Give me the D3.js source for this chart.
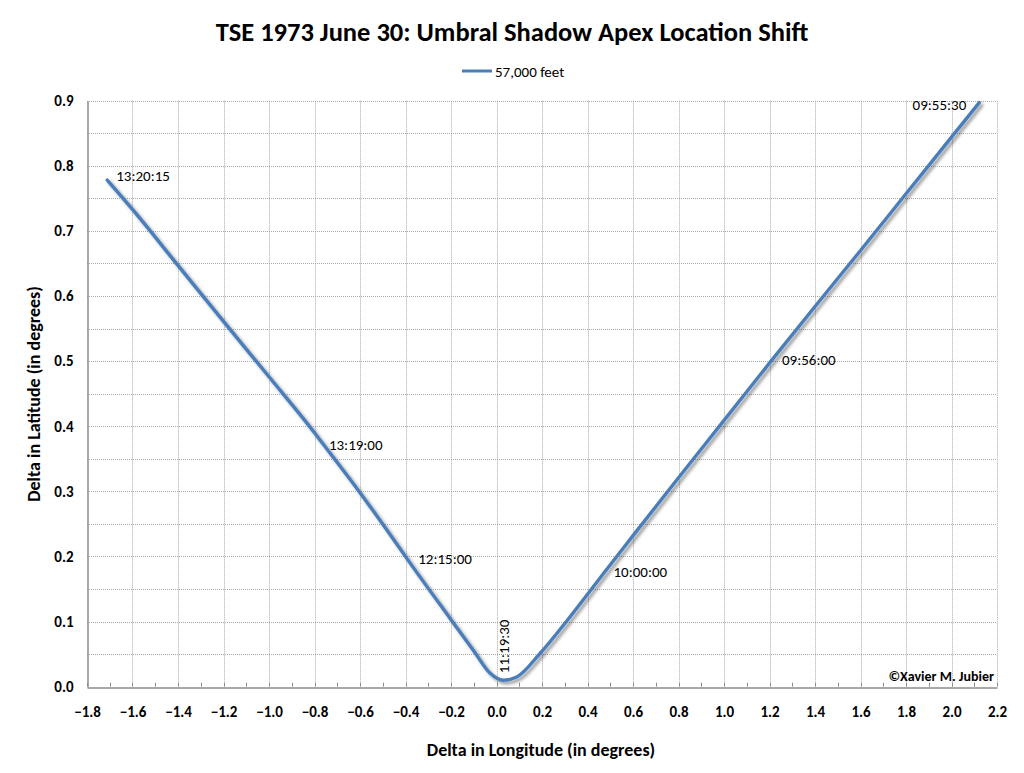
<!DOCTYPE html>
<html>
<head>
<meta charset="utf-8">
<script src="https://cdn.jsdelivr.net/npm/d3@7"></script>
<style>
  body { margin: 0; background: #fff; }
  svg { display: block; font-family: Carlito, Lato, "Open Sans", sans-serif; }
</style>
</head>
<body>
<svg id="chart" width="1024" height="773"></svg>
<script>
// ---- data ----
const title = "TSE 1973 June 30: Umbral Shadow Apex Location Shift";
const seriesName = "57,000 feet";
const lon = [-1.711, -1.6, -1.4, -1.2, -1.0, -0.8, -0.763, -0.6, -0.4, -0.388, -0.2, -0.102, -0.029, 0.030, 0.089, 0.191, 0.309, 0.4, 0.466, 0.6, 0.8, 1.0, 1.211, 1.4, 1.6, 1.8, 2.0, 2.122];
const lat = [0.778, 0.733, 0.647, 0.561, 0.476, 0.390, 0.373, 0.298, 0.200, 0.194, 0.103, 0.056, 0.021, 0.010, 0.015, 0.051, 0.101, 0.142, 0.172, 0.232, 0.321, 0.409, 0.502, 0.584, 0.670, 0.757, 0.844, 0.897];
const labelIndex = [0, 6, 9, 13, 18, 22, 27];
const labelText = ["13:20:15", "13:19:00", "12:15:00", "11:19:30", "10:00:00", "09:56:00", "09:55:30"];
const xTicks = [-1.8, -1.6, -1.4, -1.2, -1.0, -0.8, -0.6, -0.4, -0.2, 0.0, 0.2, 0.4, 0.6, 0.8, 1.0, 1.2, 1.4, 1.6, 1.8, 2.0, 2.2];
const yTicks = [0.0, 0.1, 0.2, 0.3, 0.4, 0.5, 0.6, 0.7, 0.8, 0.9];
const yGrid = [0.05, 0.1, 0.15, 0.2, 0.25, 0.3, 0.35, 0.4, 0.45, 0.5, 0.55, 0.6, 0.65, 0.7, 0.75, 0.8, 0.85, 0.9];
const xMinor = [-1.7, -1.5, -1.3, -1.1, -0.9, -0.7, -0.5, -0.3, -0.1, 0.1, 0.3, 0.5, 0.7, 0.9, 1.1, 1.3, 1.5, 1.7, 1.9, 2.1];
const xAxisTitle = "Delta in Longitude (in degrees)";
const yAxisTitle = "Delta in Latitude (in degrees)";
const credit = "©Xavier M. Jubier";

// ---- layout ----
const L = 87, R = 997, T = 100.7, B = 686.7;
const svg = d3.select("#chart");
const x = d3.scaleLinear().domain([-1.8, 2.2]).range([L, R]);
const y = d3.scaleLinear().domain([0, 0.9]).range([B, T]);
const blue = "#4a7ebb";
const FONT = "Carlito, Lato, sans-serif";

const defs = svg.append("defs");
const f = defs.append("filter").attr("id", "shadow").attr("x", "-10%").attr("y", "-10%").attr("width", "120%").attr("height", "120%");
f.append("feDropShadow").attr("dx", 2.5).attr("dy", 2.5).attr("stdDeviation", 1.4).attr("flood-color", "#000").attr("flood-opacity", 0.4);

// title
svg.append("text").attr("x", 512).attr("y", 41).attr("text-anchor", "middle")
  .attr("font-size", 26.5).attr("font-weight", "bold").attr("fill", "#000").text(title);

// legend
svg.append("line").attr("x1", 462).attr("x2", 492).attr("y1", 71).attr("y2", 71)
  .attr("stroke", blue).attr("stroke-width", 3);
svg.append("text").attr("x", 495).attr("y", 76.5).attr("font-size", 15).attr("fill", "#000").text(seriesName);

// grid
const grid = svg.append("g").attr("stroke", "#aaaaaa").attr("stroke-width", 1).attr("stroke-dasharray", "1,1");
grid.selectAll(".gy").data(yGrid).join("line")
  .attr("x1", L).attr("x2", R).attr("y1", d => Math.round(y(d)) + 0.5).attr("y2", d => Math.round(y(d)) + 0.5);
grid.selectAll(".gx").data(xTicks.slice(1)).join("line")
  .attr("y1", T).attr("y2", B).attr("x1", d => Math.round(x(d)) + 0.5).attr("x2", d => Math.round(x(d)) + 0.5);

// x axis
const xAxis = d3.axisBottom(x).tickValues(xTicks).tickSize(0).tickPadding(19).tickFormat(d3.format(".1f"));
const gx = svg.append("g").attr("transform", `translate(0,${Math.round(B) + 0.5})`).call(xAxis);
gx.select(".domain").attr("stroke", "#8c8c8c").attr("stroke-width", 1.5);
gx.selectAll("text").attr("font-size", 15).attr("font-weight", "bold").attr("fill", "#000").attr("font-family", FONT);
const tickG = svg.append("g").attr("stroke", "#8c8c8c").attr("stroke-width", 1);
tickG.selectAll("line").data(xMinor.concat(xTicks)).join("line")
  .attr("x1", d => Math.round(x(d)) + 0.5).attr("x2", d => Math.round(x(d)) + 0.5)
  .attr("y1", B - 4).attr("y2", B);

// y axis
const yAxis = d3.axisLeft(y).tickValues(yTicks).tickSize(0).tickPadding(14).tickFormat(d3.format(".1f"));
const gy = svg.append("g").attr("transform", `translate(${Math.round(L) + 0.5},0)`).call(yAxis);
gy.select(".domain").attr("stroke", "#8c8c8c").attr("stroke-width", 1.5);
gy.selectAll("text").attr("font-size", 15).attr("font-weight", "bold").attr("fill", "#000").attr("font-family", FONT);

// axis titles
svg.append("text").attr("x", 541).attr("y", 756).attr("text-anchor", "middle")
  .attr("font-size", 18).attr("font-weight", "bold").text(xAxisTitle);
svg.append("text").attr("transform", "translate(40,394) rotate(-90)").attr("text-anchor", "middle")
  .attr("font-size", 18).attr("font-weight", "bold").text(yAxisTitle);

// series line
const pts = lon.map((d, i) => [d, lat[i]]);
const line = d3.line().x(d => x(d[0])).y(d => y(d[1])).curve(d3.curveMonotoneX);
svg.append("path").datum(pts).attr("d", line).attr("fill", "none")
  .attr("stroke", blue).attr("stroke-width", 3.4).attr("stroke-linecap", "round")
  .attr("filter", "url(#shadow)");

// data labels
const labelOffsets = [[9, 1], [6, 6], [10, 4], [5.5, -7], [11, 2], [10, 5], [-13, 7]];
labelIndex.forEach((idx, k) => {
  const px = x(lon[idx]), py = y(lat[idx]);
  const off = labelOffsets[k];
  if (k === 3) {
    svg.append("text").attr("transform", `translate(${px + off[0]},${py + off[1]}) rotate(-90)`)
      .attr("font-size", 15).attr("fill", "#000").text(labelText[k]);
  } else {
    svg.append("text").attr("x", px + off[0]).attr("y", py + off[1])
      .attr("text-anchor", k === 6 ? "end" : "start")
      .attr("font-size", 15).attr("fill", "#000").text(labelText[k]);
  }
});

// credit
svg.append("text").attr("x", 994).attr("y", 681).attr("text-anchor", "end")
  .attr("font-size", 14).attr("font-weight", "bold").text(credit);
</script>
</body>
</html>
